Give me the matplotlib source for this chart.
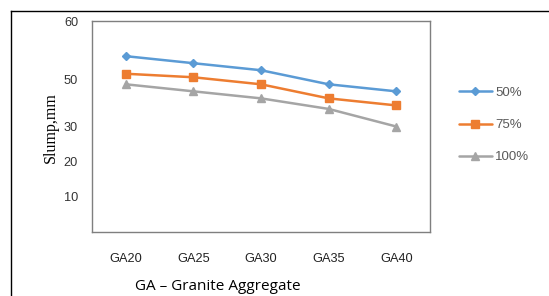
import matplotlib
matplotlib.use("Agg")
import matplotlib.pyplot as plt
from matplotlib.lines import Line2D

categories = ["GA20", "GA25", "GA30", "GA35", "GA40"]
slump_50 = [50, 48, 46, 42, 40]
slump_75 = [45, 44, 42, 38, 36]
slump_100 = [42, 40, 38, 35, 30]
series_labels = ["50%", "75%", "100%"]
ytick_values = [10, 20, 30, 43.3, 60]
ytick_labels = ["10", "20", "30", "50", "60"]

W, H = 549, 296
fig = plt.figure(figsize=(W / 100, H / 100), dpi=100)
fig.patch.set_facecolor("white")

# outer black frame (top and left)
fig.add_artist(Line2D([11 / W, 1.0], [1 - 11 / H, 1 - 11 / H], color="black", lw=1.0, transform=fig.transFigure))
fig.add_artist(Line2D([11 / W, 11 / W], [0, 1 - 11 / H], color="black", lw=1.0, transform=fig.transFigure))

left, right, top, bottom = 92, 430, 21, 232
ax = fig.add_axes([left / W, 1 - bottom / H, (right - left) / W, (bottom - top) / H])

x = list(range(len(categories)))
colors = ["#5B9BD5", "#ED7D31", "#A5A5A5"]
markers = ["D", "s", "^"]
msizes = [4.5, 6, 6]
for vals, c, m, ms, lab in zip([slump_50, slump_75, slump_100], colors, markers, msizes, series_labels):
    ax.plot(x, vals, color=c, marker=m, markersize=ms, lw=1.8, label=lab, solid_capstyle="round")

ax.set_xlim(-0.5, len(categories) - 0.5)
ax.set_ylim(0, 60)
ax.set_xticks(x)
ax.set_xticklabels(categories, fontsize=9.2, color="#222222", family="Liberation Sans")
ax.set_yticks(ytick_values)
ax.set_yticklabels(ytick_labels, fontsize=9.2, color="#333333", family="Liberation Sans")
ax.tick_params(axis="y", length=0, pad=10)
ax.tick_params(axis="x", length=0, pad=15)
for s in ax.spines.values():
    s.set_color("#7f7f7f")
    s.set_linewidth(1.0)

ax.set_ylabel("Slump,mm", family="Liberation Serif", fontsize=11.5)
ax.yaxis.set_label_coords(59 / W, 1 - 128 / H, transform=fig.transFigure)
fig.text(218 / W, 1 - 286 / H, "GA \u2013 Granite Aggregate", ha="center", va="center",
         fontsize=11, family="Open Sans", fontweight="medium", color="black")

leg = ax.legend(loc="upper left", bbox_to_anchor=(447 / W, 1 - 75 / H), bbox_transform=fig.transFigure,
                frameon=False, labelspacing=1.5, handlelength=2.5, handletextpad=0.25,
                prop={"family": "Liberation Sans", "size": 9.5})
for t in leg.get_texts():
    t.set_color("#595959")

fig.savefig("out.png", dpi=100)
